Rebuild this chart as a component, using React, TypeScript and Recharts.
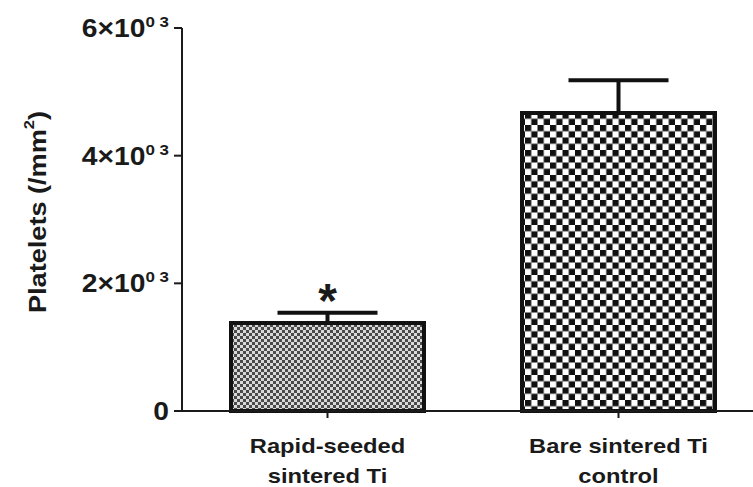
import { BarChart, Bar, XAxis, YAxis, ErrorBar, LabelList, Cell } from "recharts";

// values (platelets per mm²)
const categories = ["Rapid-seeded\nsintered Ti", "Bare sintered Ti\ncontrol"];
const means = [1380, 4670];
const sems = [160, 510];
const marks = ["*", ""];
const patterns = ["url(#fineDots)", "url(#checker)"];
const yTicks = [0, 2000, 4000, 6000];

const FONT = "'Liberation Sans', Arial, sans-serif";
const INK = "#1a1a1a";
const STRETCH = 1.13; // the source figure is a bit wide

const data = categories.map((name, i) => ({
  name,
  mean: means[i],
  err: [0, sems[i]],
  mark: marks[i],
}));

function YTick({ x, y, payload }: any) {
  const v = payload.value as number;
  return (
    <g transform={`translate(${x - 3},${y + 9}) scale(${STRETCH},1)`}>
      <text textAnchor="end" fontFamily={FONT} fontWeight={700} fontSize={25} fill={INK}>
        {v === 0 ? (
          "0"
        ) : (
          <>
            {`${v / 1000}×10`}
            <tspan dy={-10} fontSize={15}>
              0 3
            </tspan>
          </>
        )}
      </text>
    </g>
  );
}

function XTick({ x, y, payload }: any) {
  const lines = String(payload.value).split("\n");
  return (
    <g transform={`translate(${x},${y}) scale(${STRETCH},1)`}>
      {lines.map((line, i) => (
        <text
          key={i}
          x={0}
          y={33 + i * 30}
          textAnchor="middle"
          fontFamily={FONT}
          fontWeight={700}
          fontSize={21}
          fill={INK}
        >
          {line}
        </text>
      ))}
    </g>
  );
}

function Mark({ x, y, width, value }: any) {
  if (!value) return null;
  return (
    <text
      x={x + width / 2}
      y={y - 6}
      textAnchor="middle"
      fontFamily={FONT}
      fontWeight={700}
      fontSize={48}
      fill={INK}
    >
      {value}
    </text>
  );
}

export default function App() {
  return (
    <div
      style={{
        position: "fixed",
        left: 0,
        top: 0,
        width: 753,
        height: 487,
        overflow: "hidden",
        background: "#fff",
      }}
    >
      <svg width={0} height={0} style={{ position: "absolute" }}>
        <defs>
          <pattern id="fineDots" width={6} height={6} patternUnits="userSpaceOnUse">
            <rect width={6} height={6} fill="#d9d9d9" />
            <rect width={3} height={3} fill="#4a4a4a" />
            <rect x={3} y={3} width={3} height={3} fill="#4a4a4a" />
          </pattern>
          <pattern id="checker" width={12.5} height={12.5} patternUnits="userSpaceOnUse">
            <rect width={12.5} height={12.5} fill="#fff" />
            <rect width={6.25} height={6.25} fill="#111" />
            <rect x={6.25} y={6.25} width={6.25} height={6.25} fill="#111" />
          </pattern>
        </defs>
      </svg>
      <svg
        width={200}
        height={487}
        style={{ position: "absolute", left: 0, top: 0 }}
      >
        <text
          transform={`translate(38,212) rotate(-90) scale(1.18,1)`}
          textAnchor="middle"
          dominantBaseline="central"
          fontFamily={FONT}
          fontWeight={700}
          fontSize={23}
          fill={INK}
        >
          Platelets (/mm
          <tspan dy={-9} fontSize={14}>
            2
          </tspan>
          <tspan dy={9}>)</tspan>
        </text>
      </svg>
      <div style={{ position: "absolute", left: 0, top: 0 }}>
        <BarChart
          width={780}
          height={487}
          data={data}
          margin={{ top: 28, right: 16, bottom: 0, left: 0 }}
        >
          <XAxis
            dataKey="name"
            height={76}
            axisLine={{ stroke: INK, strokeWidth: 2 }}
            tickLine={{ stroke: INK, strokeWidth: 2 }}
            tickSize={7}
            tick={<XTick />}
            interval={0}
          />
          <YAxis
            width={182}
            domain={[0, 6000]}
            ticks={yTicks}
            axisLine={{ stroke: INK, strokeWidth: 2 }}
            tickLine={{ stroke: INK, strokeWidth: 2 }}
            tickSize={8}
            tick={<YTick />}
          />
          <Bar
            dataKey="mean"
            barSize={193}
            stroke="#111"
            strokeWidth={4}
            isAnimationActive={false}
          >
            {data.map((d, i) => (
              <Cell key={d.name} fill={patterns[i]} />
            ))}
            <ErrorBar
              dataKey="err"
              direction="y"
              width={50}
              stroke="#111"
              strokeWidth={4}
              isAnimationActive={false}
            />
            <LabelList dataKey="mark" content={<Mark />} />
          </Bar>
        </BarChart>
      </div>
    </div>
  );
}
